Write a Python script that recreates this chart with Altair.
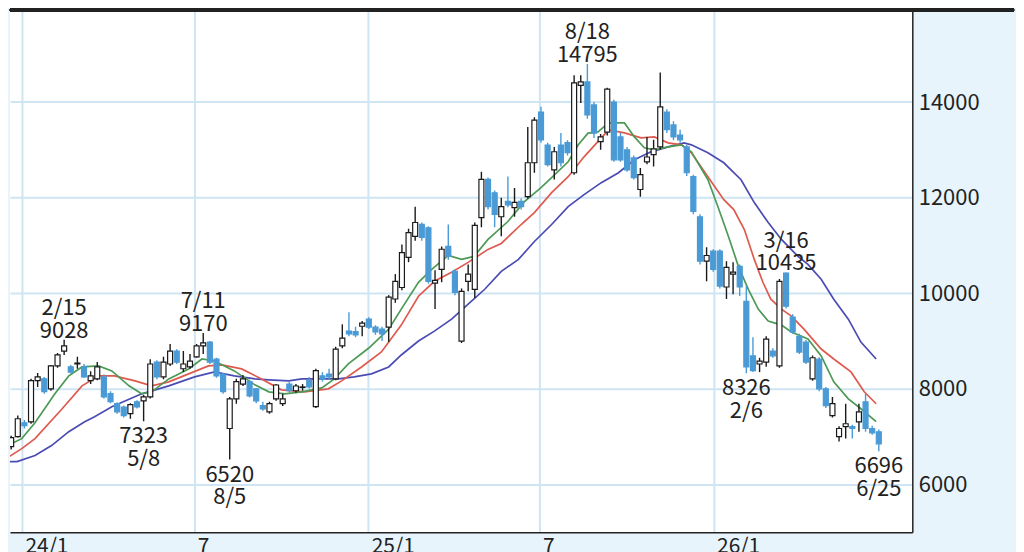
import altair as alt
import pandas as pd
import numpy as np

# ---------------- data (weekly candles, first week = 2023-12-18) ----------------
first_week = "2023-12-18"
opens = [6790, 7000, 7290, 7310, 8170, 8210, 8000, 8480, 8790, 8460,
         8520, 8460, 8170, 8210, 8250, 7900, 7690, 7620, 7480, 7730,
         7750, 7830, 8560, 8250, 8520, 8790, 8420, 8460, 8670, 8900,
         8980, 8620, 8310, 7170, 7790, 8100, 8150, 8000, 7650, 7520,
         7790, 7690, 8100, 7960, 8030, 8170, 7630, 8270, 8310, 8210,
         8900, 9210, 9200, 9310, 9460, 9290, 9250, 9290, 9880, 10120,
         10750, 11190, 11440, 11370, 10210, 10500, 10980, 10460, 9000, 10250,
         10080, 11580, 12380, 12100, 11600, 11920, 11790, 11920, 12020, 12730,
         13790, 13100, 12580, 13100, 13150, 12520, 14350, 14420, 13940, 13170,
         13370, 14000, 13270, 13000, 12830, 12170, 12750, 12900, 13060, 13790,
         13520, 13310, 13060, 12440, 11600, 10670, 10880, 10880, 10130, 10400,
         10560, 9830, 8690, 8520, 8560, 8790, 8480, 10420, 9500, 9100,
         8980, 8210, 8620, 8000, 7440, 7000, 7210, 7210, 7310, 7730,
         7170, 7100]
highs = [7020, 7440, 7350, 8210, 8330, 8250, 8500, 8750, 9028, 8500,
         8670, 8520, 8370, 8560, 8300, 7950, 7720, 7650, 7700, 7760,
         7870, 8620, 8600, 8670, 8940, 8830, 8790, 8730, 8940, 9170,
         9000, 8650, 8330, 7830, 8210, 8290, 8190, 8020, 7730, 7730,
         8100, 7900, 8150, 8100, 8100, 8250, 8420, 8350, 8420, 8880,
         9350, 9600, 9300, 9420, 9500, 9330, 9300, 9960, 10400, 11020,
         11350, 11810, 11480, 11400, 10480, 10980, 11440, 10500, 10100, 10600,
         11480, 12540, 12420, 12150, 12000, 12440, 12200, 11980, 13480, 13680,
         13900, 13150, 13060, 13350, 13200, 14560, 14560, 14795, 14000, 13330,
         14300, 14050, 13350, 13060, 12880, 12620, 13270, 13210, 14620, 13850,
         13600, 13420, 13100, 12480, 11650, 10960, 10920, 10920, 10670, 10650,
         10600, 10150, 9080, 8650, 9100, 8850, 10300, 10435, 9560, 9150,
         9020, 8700, 8660, 8040, 7830, 7220, 7690, 7250, 7690, 7900,
         7230, 7150]
lows = [6730, 6980, 7170, 7270, 8040, 7900, 7960, 8440, 8710, 8320,
        8420, 8230, 8100, 8180, 7800, 7700, 7480, 7400, 7375, 7590,
        7323, 7800, 8200, 8200, 8480, 8520, 8350, 8420, 8650, 8730,
        8520, 8230, 7900, 6520, 7690, 8060, 7820, 7700, 7540, 7480,
        7750, 7640, 7920, 7920, 7960, 8000, 7600, 8150, 8200, 8180,
        8850, 9100, 9080, 9100, 9250, 9130, 9000, 8980, 9800, 10060,
        10650, 11100, 11100, 10200, 9670, 10230, 10700, 9960, 8960, 10040,
        9900, 11380, 11750, 11380, 11190, 11800, 11600, 11750, 11980, 12520,
        13150, 12650, 12380, 12650, 12880, 12480, 13980, 13650, 13250, 13000,
        13300, 12750, 12750, 12540, 12380, 12020, 12700, 12650, 13000, 13350,
        13200, 13150, 12450, 11650, 10600, 10250, 10450, 10100, 9880, 9980,
        9940, 8326, 8350, 8350, 8460, 8650, 8440, 9680, 9150, 8730,
        8520, 8170, 7950, 7600, 7400, 6900, 6960, 6960, 7100, 7100,
        7040, 6696]
closes = [6980, 7375, 7230, 8170, 8250, 7940, 8480, 8710, 8900, 8350,
          8540, 8250, 8270, 8460, 7830, 7730, 7520, 7440, 7670, 7620,
          7830, 8520, 8250, 8560, 8790, 8560, 8520, 8580, 8900, 8960,
          8560, 8270, 7940, 7790, 8150, 8210, 7850, 7750, 7580, 7690,
          8080, 7790, 7960, 8060, 8040, 8040, 8380, 8210, 8250, 8830,
          9060, 9150, 9130, 9375, 9290, 9190, 9150, 9920, 10250, 10850,
          11270, 11480, 11170, 10250, 10270, 10920, 10770, 10020, 10040, 10400,
          11420, 12380, 11810, 11650, 11810, 11850, 11900, 11810, 12730, 13620,
          13210, 12690, 12960, 12730, 12940, 14400, 14420, 13730, 13350, 13270,
          14270, 12790, 12790, 12580, 12420, 12480, 12850, 13020, 13900, 13420,
          13270, 13210, 12520, 11710, 10670, 10790, 10500, 10150, 10540, 10440,
          10130, 8460, 8380, 8580, 9040, 8690, 10250, 9730, 9190, 8770,
          8560, 8650, 8000, 7650, 7690, 7170, 7270, 7170, 7520, 7170,
          7080, 6850]

# moving averages (week index from 2024-01-01, value)
ma13_week = [-2.3, -0.4, 1.6, 4.6, 6.7, 8.7, 11.2, 13.2, 15.8, 17.7, 19.2, 21.8,
             24.8, 26.8, 28.7, 31.7, 34.8, 36.9, 39.3, 41.9, 44.9, 46.8, 48.9, 52,
             55, 56.9, 59.5, 61.5, 64, 66, 67.9, 70, 73, 75.5, 78, 79.6, 82.1, 83.6,
             85.1, 86.6, 88.2, 90.6, 92.1, 93.6, 95.1, 97.2, 99.2, 100.7, 103.2,
             104.7, 106.3, 107.8, 109.3, 110.8, 112.3, 114.3, 115.8, 118.3, 120.3,
             122.2, 124.4, 126.3, 128.6]
ma13_val = [6833, 6958, 7292, 7896, 8271, 8458, 8479, 8375, 8063, 7896, 7938, 8208,
            8417, 8625, 8583, 8375, 8083, 7938, 7896, 7938, 8021, 8208, 8521, 8854,
            9250, 9667, 10229, 10500, 10792, 10708, 10771, 11125, 11500, 11917, 12208,
            12417, 12750, 13100, 13350, 13375, 13563, 13563, 13271, 13042, 13000,
            13063, 13104, 12958, 12375, 11813, 11188, 10563, 10083, 9667, 9417, 9333,
            9188, 9042, 8688, 8146, 7792, 7583, 7313]
ma26_week = [-2.3, -0.4, 1.6, 5.7, 8.7, 11.2, 13.6, 16.7, 19.2, 21.8, 24.8, 27.8,
             29.8, 32.8, 35.8, 38.8, 42.3, 45.9, 47.9, 50.9, 53.9, 56.9, 59.5, 61.9,
             64.5, 67, 70, 72, 75, 77, 79.6, 82.1, 84.5, 87.1, 88.2, 90.6, 93.1, 95.1,
             97.2, 99.2, 100.7, 103.2, 105.6, 107.1, 108.7, 110.2, 111.5, 112.7, 114.3,
             115.8, 117.7, 120.3, 122.2, 124.8, 126.8, 128.6]
ma26_val = [6583, 6750, 6958, 7583, 8063, 8271, 8271, 8167, 8063, 8146, 8313, 8479,
            8500, 8417, 8208, 7979, 7938, 8000, 8167, 8458, 8771, 9333, 9938, 10250,
            10438, 10646, 10917, 11042, 11438, 11688, 12104, 12438, 12854, 13250, 13417,
            13354, 13250, 13271, 13146, 13104, 12938, 12438, 11958, 11750, 11333, 10708,
            10229, 9875, 9667, 9521, 9250, 8833, 8625, 8354, 7938, 7688]
ma52_week = [-2.3, -1.1, 1.6, 4.1, 6.7, 9.1, 10.6, 13.2, 17.7, 21.8, 25.7, 28.7,
             31.7, 34.8, 36.9, 39.9, 41.9, 44.9, 47.4, 49.8, 52.4, 55, 56.9, 59.5,
             61.9, 64.5, 67, 69.5, 72, 74.6, 77, 79.6, 82.1, 84.5, 87.1, 89.7, 92.1,
             94.6, 97.2, 99.6, 100.7, 103.2, 105.6, 108.2, 110.2, 112.3, 114.3, 116.8,
             118.3, 120.3, 122.2, 124.4, 126.3, 128.6]
ma52_val = [6479, 6479, 6604, 6813, 7104, 7313, 7417, 7625, 7896, 8063, 8250, 8354,
            8271, 8208, 8188, 8167, 8208, 8208, 8208, 8250, 8313, 8458, 8708, 9000,
            9208, 9458, 9771, 10083, 10458, 10708, 11083, 11438, 11813, 12063, 12313,
            12521, 12792, 12958, 13063, 13146, 13104, 12938, 12729, 12375, 11896, 11479,
            11125, 10771, 10604, 10292, 9875, 9458, 8979, 8625]

# high / low annotations (week index from 2024-01-01)
ann_week = [6, 18, 27, 31, 85, 109, 115, 129]
ann_text = ["2/15\n9028", "7323\n5/8", "7/11\n9170", "6520\n8/5",
            "8/18\n14795", "8326\n2/6", "3/16\n10435", "6696\n6/25"]
ann_price = [9028, 7323, 9170, 6520, 14795, 8326, 10435, 6696]
ann_kind = ["high", "low", "high", "low", "high", "low", "high", "low"]

x_tick_dates = [(2024, 1), (2024, 7), (2025, 1), (2025, 7), (2026, 1)]
y_ticks = [6000, 8000, 10000, 12000, 14000]

# ---------------- tables ----------------
center = pd.Timedelta(hours=62)
base = pd.Timestamp("2024-01-01")
weeks = pd.date_range(first_week, periods=len(opens), freq="7D") + center
candles = pd.DataFrame({"date": weeks, "open": opens, "high": highs,
                        "low": lows, "close": closes})
candles["dir"] = np.where(candles["close"] >= candles["open"], "up", "down")


def ma_frame(wk, val):
    d = base + pd.to_timedelta(np.array(wk) * 7, unit="D") + center
    return pd.DataFrame({"date": d, "value": val})


ann = pd.DataFrame({"date": base + pd.to_timedelta(np.array(ann_week) * 7, unit="D") + center,
                    "text": ann_text, "price": ann_price, "kind": ann_kind})

# ---------------- chart ----------------
FONT = "Noto Sans CJK JP"
INK = "#222222"
UP_EDGE = "#1a1a1a"
DOWN = "#4a9ad6"
GRID = "#cfe5f3"

W, H = 905, 531
AXIS_W = 102
xscale = alt.Scale(domain=[alt.DateTime(year=2023, month=12, date=19, hours=8, minutes=31),
                           alt.DateTime(year=2026, month=7, date=30)], padding=0)
yscale = alt.Scale(domain=[5000, 16075], nice=False, zero=False, padding=0)

x_axis = alt.Axis(values=[alt.DateTime(year=y, month=m, date=1) for y, m in x_tick_dates],
                  labelExpr="month(datum.value) == 0 ? timeFormat(datum.value, '%y/%-m') : timeFormat(datum.value, '%-m')",
                  title=None, grid=True, gridColor=GRID, gridWidth=2, ticks=False,
                  domainColor=INK, domainWidth=1.5, labelAlign="left", labelOffset=3,
                  labelBaseline="top", labelPadding=3, labelFont=FONT, labelFontSize=21,
                  labelColor=INK)
y_axis = alt.Axis(values=y_ticks, orient="right", title=None, grid=True, gridColor=GRID,
                  gridWidth=2, ticks=False, domainColor=INK, domainWidth=1.5, format="d",
                  labelPadding=6, labelFont=FONT, labelFontSize=22, labelColor=INK,
                  labelBaseline="middle", minExtent=AXIS_W, maxExtent=AXIS_W)

X = alt.X("date:T", scale=xscale, axis=x_axis)

dir_color = alt.Scale(domain=["up", "down"], range=[UP_EDGE, DOWN])
dir_fill = alt.Scale(domain=["up", "down"], range=["#ffffff", DOWN])

wicks = alt.Chart(candles).mark_rule(strokeWidth=1.4, clip=True).encode(
    x=X,
    y=alt.Y("low:Q", scale=yscale, axis=y_axis),
    y2="high:Q",
    color=alt.Color("dir:N", scale=dir_color, legend=None),
)

bodies = alt.Chart(candles).mark_bar(width=5, strokeWidth=1.2, clip=True).encode(
    x=X,
    y=alt.Y("open:Q", scale=yscale),
    y2="close:Q",
    fill=alt.Fill("dir:N", scale=dir_fill, legend=None),
    stroke=alt.Stroke("dir:N", scale=dir_color, legend=None),
)


def ma_line(wk, val, colour):
    return alt.Chart(ma_frame(wk, val)).mark_line(
        strokeWidth=1.7, clip=True, color=colour).encode(
        x=X, y=alt.Y("value:Q", scale=yscale))


line13 = ma_line(ma13_week, ma13_val, "#4d9a55")
line26 = ma_line(ma26_week, ma26_val, "#df5a4e")
line52 = ma_line(ma52_week, ma52_val, "#4a4cb3")

hi_text = alt.Chart(ann).transform_filter("datum.kind == 'high'").mark_text(
    font=FONT, fontSize=22, color=INK, baseline="bottom", align="center",
    lineBreak="\n", lineHeight=23, dy=-20).encode(
    x=X, y=alt.Y("price:Q", scale=yscale), text="text:N")

lo_text = alt.Chart(ann).transform_filter("datum.kind == 'low'").mark_text(
    font=FONT, fontSize=22, color=INK, baseline="top", align="center",
    lineBreak="\n", lineHeight=23, dy=5).encode(
    x=X, y=alt.Y("price:Q", scale=yscale), text="text:N")

top_border = alt.Chart(candles).mark_rule(color=INK, strokeWidth=3).encode(
    x=alt.value(0), x2=alt.value(W + AXIS_W), y=alt.value(7.5))

chart = alt.layer(line52, line26, line13, wicks, bodies, hi_text, lo_text,
                  top_border).resolve_scale(color="independent").properties(
    width=W, height=H,
    padding={"top": -6, "left": 0, "right": 0, "bottom": 0},
    background="#e8f4fc",
).configure_view(fill="#ffffff", stroke=None)

chart.save("out.html", embed_options={"renderer": "svg", "actions": False})
